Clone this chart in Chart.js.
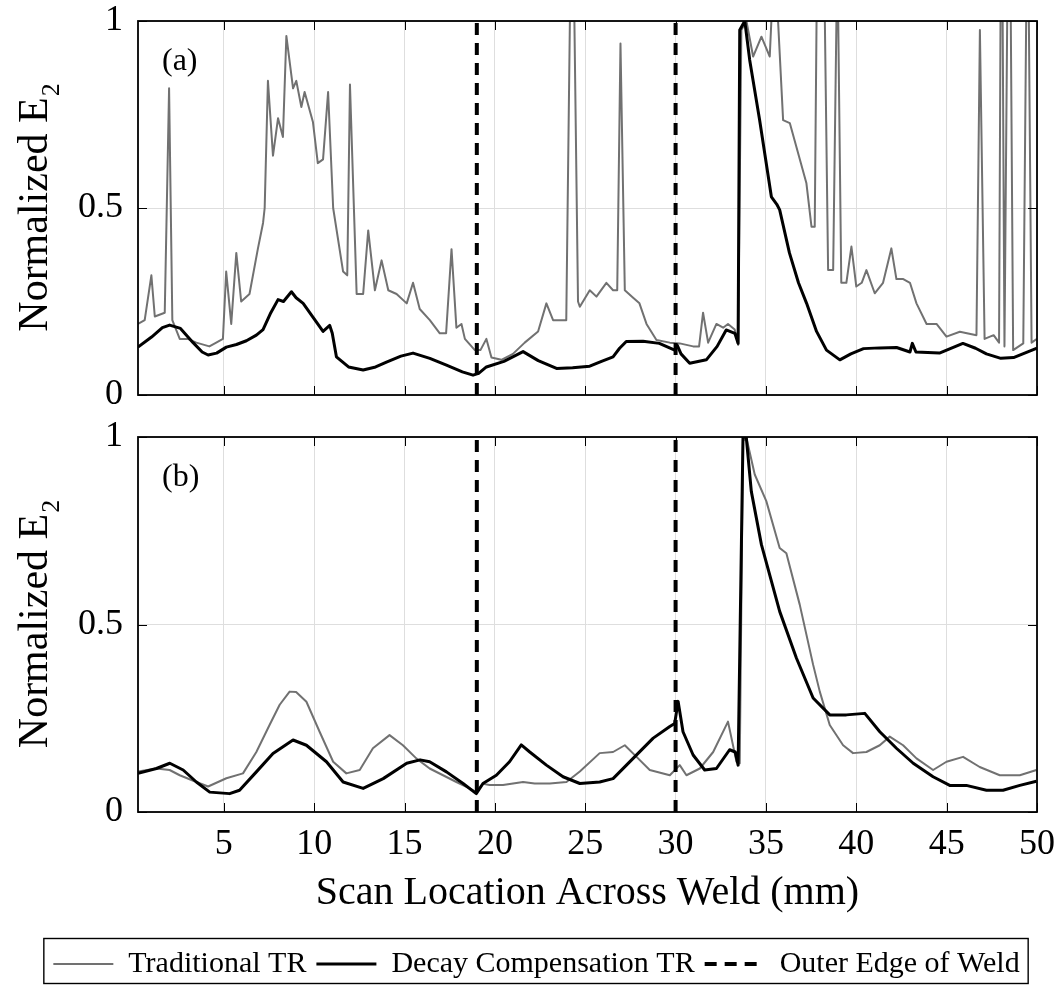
<!DOCTYPE html>
<html>
<head>
<meta charset="utf-8">
<script src="https://cdn.jsdelivr.net/npm/chart.js@4.4.1/dist/chart.umd.min.js"></script>
<style>
  html, body { margin: 0; padding: 0; background: #fff; }
  #wrap { position: relative; width: 1060px; height: 985px; }
  canvas { position: absolute; left: 0; }
  #top { top: 0; }
  #bottom { top: 420px; }
</style>
</head>
<body>
<div id="wrap">
  <canvas id="top" width="1060" height="420"></canvas>
  <canvas id="bottom" width="1060" height="565"></canvas>
</div>
<script>
const xTicks = [5, 10, 15, 20, 25, 30, 35, 40, 45, 50];
const yTicks = [0, 0.5, 1];
const weldEdges = [19, 30];

// (a) traditional TR, [scan location mm, normalized E2]
const tradA = [
  [0.25,0.19],[0.62,0.20],[0.99,0.32],[1.18,0.21],[1.73,0.22],[1.97,0.82],[2.15,0.20],[2.56,0.15],
  [3.0,0.15],[3.48,0.14],[4.2,0.13],[4.58,0.14],[4.95,0.15],[5.13,0.33],[5.41,0.19],[5.69,0.38],
  [5.96,0.25],[6.42,0.27],[6.88,0.39],[7.17,0.46],[7.26,0.50],[7.44,0.84],[7.72,0.64],[8.0,0.74],
  [8.27,0.69],[8.46,0.96],[8.83,0.82],[9.01,0.84],[9.29,0.77],[9.47,0.81],[9.93,0.73],[10.2,0.62],
  [10.49,0.63],[10.77,0.81],[11.05,0.50],[11.6,0.33],[11.83,0.32],[11.98,0.83],[12.35,0.27],[12.71,0.27],
  [12.99,0.44],[13.36,0.28],[13.73,0.36],[14.1,0.28],[14.56,0.27],[15.12,0.245],[15.47,0.30],[15.84,0.23],
  [16.4,0.20],[16.95,0.165],[17.3,0.165],[17.6,0.39],[17.87,0.18],[18.15,0.19],[18.34,0.15],[18.89,0.12],
  [19.2,0.12],[19.53,0.15],[19.81,0.10],[20.36,0.094],[21.0,0.11],[21.65,0.14],[22.39,0.17],[22.85,0.245],
  [23.22,0.20],[23.95,0.20],[24.15,1.0],[24.4,1.0],[24.6,0.25],[24.7,0.236],[25.25,0.28],[25.62,0.263],
  [26.17,0.30],[26.54,0.28],[26.77,0.28],[26.95,0.94],[27.19,0.28],[27.65,0.26],[28.0,0.245],[28.39,0.19],
  [28.94,0.147],[29.68,0.14],[30.23,0.138],[30.97,0.13],[31.3,0.13],[31.52,0.22],[31.8,0.14],[32.26,0.19],
  [32.63,0.18],[32.9,0.19],[33.27,0.175],[33.46,0.134],[33.64,0.976],[33.92,1.0],[34.29,0.905],[34.75,0.958],
  [35.21,0.905],[35.3,1.0],[35.67,1.0],[35.95,0.735],[36.32,0.727],[37.24,0.566],[37.52,0.45],[37.7,0.45],
  [37.8,1.0],[38.26,1.0],[38.44,0.334],[38.72,0.334],[38.9,1.0],[39.0,1.0],[39.17,0.30],[39.45,0.30],
  [39.73,0.397],[40.0,0.29],[40.3,0.30],[40.56,0.334],[41.02,0.272],[41.48,0.30],[41.94,0.392],[42.22,0.31],
  [42.6,0.31],[42.97,0.30],[43.33,0.245],[43.89,0.19],[44.44,0.19],[44.99,0.156],[45.73,0.169],[46.65,0.16],
  [46.84,0.976],[47.1,0.15],[47.6,0.16],[47.9,0.14],[47.98,1.0],[48.1,1.0],[48.2,0.13],[48.35,1.0],
  [48.55,1.0],[48.68,0.12],[49.24,0.138],[49.4,1.0],[49.55,1.0],[49.7,0.14],[50,0.15]
];

// (a) decay compensation TR
const decayA = [
  [0.25,0.128],[1.0,0.155],[1.6,0.18],[2.0,0.187],[2.6,0.178],[3.3,0.14],[3.8,0.115],[4.13,0.107],
  [4.6,0.112],[5.14,0.128],[5.7,0.135],[6.25,0.145],[6.8,0.16],[7.17,0.175],[7.6,0.22],[8.0,0.255],
  [8.3,0.25],[8.74,0.276],[9.0,0.26],[9.39,0.245],[9.9,0.21],[10.49,0.17],[10.86,0.186],[11.0,0.165],
  [11.23,0.102],[11.9,0.075],[12.71,0.067],[13.4,0.075],[14.0,0.088],[14.8,0.104],[15.47,0.112],[16.4,0.098],
  [17.32,0.08],[18.2,0.062],[18.79,0.053],[19.1,0.058],[19.53,0.075],[20.5,0.09],[21.56,0.116],[22.4,0.092],
  [23.41,0.071],[24.3,0.073],[25.25,0.077],[25.9,0.09],[26.54,0.102],[26.9,0.125],[27.27,0.143],[28.2,0.144],
  [29.1,0.138],[29.95,0.12],[30.1,0.132],[30.3,0.11],[30.78,0.085],[31.7,0.094],[32.3,0.13],[32.8,0.174],
  [33.28,0.165],[33.46,0.138],[33.55,0.976],[33.83,1.0],[34.1,0.896],[34.65,0.735],[35.3,0.53],[35.6,0.51],
  [35.76,0.495],[36.3,0.38],[36.8,0.3],[37.25,0.245],[37.8,0.17],[38.35,0.12],[39.09,0.094],[39.7,0.11],
  [40.4,0.124],[41.3,0.126],[42.23,0.127],[42.97,0.115],[43.1,0.138],[43.3,0.115],[44.6,0.112],[45.9,0.138],
  [46.6,0.125],[47.2,0.11],[48.0,0.098],[48.7,0.1],[50,0.125]
];

// (b) traditional TR
const tradB = [
  [0.25,0.108],[1.27,0.116],[2.0,0.112],[2.56,0.098],[3.48,0.08],[4.13,0.068],[5.14,0.09],[6.06,0.103],
  [6.8,0.16],[7.53,0.232],[8.09,0.286],[8.64,0.321],[9.0,0.32],[9.57,0.294],[10.3,0.214],[11.05,0.134],
  [11.78,0.103],[12.52,0.112],[13.25,0.17],[14.17,0.205],[14.91,0.178],[15.65,0.143],[16.39,0.116],[17.13,0.098],
  [17.87,0.08],[18.6,0.063],[18.97,0.053],[19.34,0.075],[19.71,0.072],[20.45,0.072],[21.56,0.08],[22.2,0.076],
  [23.04,0.076],[23.96,0.08],[24.7,0.108],[25.8,0.157],[26.54,0.16],[27.19,0.178],[27.84,0.147],[28.57,0.112],
  [29.68,0.098],[30.23,0.125],[30.6,0.098],[31.34,0.116],[32.08,0.16],[32.9,0.241],[33.37,0.134],[33.55,0.13],
  [33.73,0.989],[33.91,1.0],[34.38,0.9],[35.02,0.829],[35.76,0.704],[36.13,0.69],[36.87,0.553],[37.61,0.393],
  [37.98,0.321],[38.53,0.232],[39.27,0.178],[39.82,0.157],[40.56,0.16],[41.3,0.178],[41.85,0.201],[42.59,0.178],
  [43.33,0.143],[44.25,0.112],[44.99,0.134],[45.91,0.147],[46.83,0.12],[47.94,0.098],[49.05,0.098],[49.97,0.112]
];

// (b) decay compensation TR
const decayB = [
  [0.25,0.103],[1.27,0.116],[2.01,0.13],[2.75,0.112],[3.48,0.08],[4.22,0.053],[5.32,0.049],[5.87,0.058],
  [6.8,0.107],[7.72,0.156],[8.83,0.192],[9.57,0.178],[10.68,0.134],[11.6,0.08],[12.71,0.063],[13.82,0.089],
  [15.12,0.13],[15.86,0.139],[16.39,0.134],[17.32,0.107],[18.24,0.076],[18.97,0.049],[19.34,0.076],[20.08,0.098],
  [20.81,0.134],[21.46,0.179],[21.93,0.16],[22.85,0.125],[23.77,0.094],[24.7,0.076],[25.8,0.08],[26.54,0.089],
  [27.65,0.143],[28.76,0.197],[29.68,0.228],[29.95,0.236],[30.14,0.295],[30.41,0.214],[30.97,0.152],[31.61,0.112],
  [32.26,0.116],[32.99,0.166],[33.3,0.16],[33.46,0.125],[33.73,1.0],[33.91,1.0],[34.19,0.855],[34.75,0.713],
  [35.76,0.535],[36.69,0.41],[37.61,0.304],[38.53,0.259],[39.45,0.259],[40.47,0.263],[41.3,0.214],[42.22,0.17],
  [43.15,0.13],[44.25,0.094],[45.17,0.071],[46.09,0.071],[47.2,0.058],[48.12,0.058],[49.05,0.071],[49.97,0.082]
];

const serif = "'Liberation Serif', 'Times New Roman', serif";
Chart.defaults.font.family = serif;
Chart.defaults.color = '#000';

// two vertical segments, broken by a null point
const edgeLine = weldEdges.flatMap((x, i) =>
  (i ? [[(weldEdges[i - 1] + x) / 2, null]] : []).concat([[x, 0], [x, 1]]));

function makeDatasets(trad, decay) {
  return [
    { label: 'Traditional TR', data: trad, borderColor: '#717171', borderWidth: 2, order: 3 },
    { label: 'Decay Compensation TR', data: decay, borderColor: '#000', borderWidth: 3, order: 2 },
    { label: 'Outer Edge of Weld', data: edgeLine, borderColor: '#000', borderWidth: 4, borderDash: [12, 8], order: 1 }
  ].map(d => Object.assign({ pointRadius: 0, tension: 0, fill: false, borderJoinStyle: 'round' }, d));
}

// frame, inner tick marks, panel tag, y title with subscript, legend box
const panelDecor = {
  id: 'panelDecor',
  afterDraw(chart, args, opts) {
    const { ctx, chartArea: a, scales: { x, y } } = chart;
    ctx.save();
    ctx.strokeStyle = '#000';
    ctx.lineWidth = 1;
    ctx.beginPath();
    xTicks.forEach(v => {
      const px = Math.round(x.getPixelForValue(v)) + 0.5;
      ctx.moveTo(px, a.bottom); ctx.lineTo(px, a.bottom - 9);
      ctx.moveTo(px, a.top); ctx.lineTo(px, a.top + 9);
    });
    yTicks.forEach(v => {
      const py = Math.round(y.getPixelForValue(v)) + 0.5;
      ctx.moveTo(a.left, py); ctx.lineTo(a.left + 9, py);
      ctx.moveTo(a.right, py); ctx.lineTo(a.right - 9, py);
    });
    ctx.stroke();
    ctx.lineWidth = 1.8;
    ctx.strokeRect(a.left, a.top, a.right - a.left, a.bottom - a.top);

    ctx.fillStyle = '#000';
    ctx.textAlign = 'left';
    ctx.textBaseline = 'alphabetic';
    ctx.font = `32px ${serif}`;
    ctx.fillText(opts.tag, a.left + 24, a.top + 49);

    const lg = chart.legend;
    if (lg && lg.options.display && lg.legendHitBoxes.length) {
      const hb = lg.legendHitBoxes;
      const l = Math.min(...hb.map(h => h.left)) - 10;
      const r = Math.max(...hb.map(h => h.left + h.width)) + 8;
      ctx.lineWidth = 1.4;
      ctx.strokeRect(l + 0.5, lg.top - 0.5, r - l, lg.height - 1);
    }

    const main = 'Normalized E', sub = '2';
    ctx.font = `42px ${serif}`;
    const w1 = ctx.measureText(main).width;
    ctx.font = `26px ${serif}`;
    const w2 = ctx.measureText(sub).width;
    ctx.translate(a.left - 91, (a.top + a.bottom) / 2);
    ctx.rotate(-Math.PI / 2);
    ctx.font = `42px ${serif}`;
    ctx.fillText(main, -(w1 + w2) / 2, 0);
    ctx.font = `26px ${serif}`;
    ctx.fillText(sub, -(w1 + w2) / 2 + w1 + 1, 12);
    ctx.restore();
  }
};

function makeOptions(isBottom) {
  return {
    responsive: false,
    animation: false,
    devicePixelRatio: 1,
    events: [],
    layout: { padding: { top: isBottom ? 17 : 21, right: 23, bottom: 0, left: 36 } },
    scales: {
      x: {
        type: 'linear', min: 0.25, max: 50,
        afterBuildTicks: s => { s.ticks = xTicks.map(v => ({ value: v })); },
        afterFit: s => { s.height = isBottom ? 127 : 25; s.paddingLeft = 0; s.paddingRight = 0; },
        grid: { color: '#dedede', drawTicks: false },
        border: { display: false },
        ticks: { display: isBottom, padding: 11, font: { size: 36 }, maxRotation: 0, callback: v => String(v) },
        title: {
          display: isBottom, text: 'Scan Location Across Weld (mm)',
          font: { size: 40 }, padding: { top: 0, bottom: 22 }
        }
      },
      y: {
        type: 'linear', min: 0, max: 1,
        afterBuildTicks: s => { s.ticks = yTicks.map(v => ({ value: v })); },
        afterFit: s => { s.width = 102; s.paddingTop = 0; s.paddingBottom = 0; },
        grid: { color: '#dedede', drawTicks: false },
        border: { display: false },
        ticks: { padding: 15, font: { size: 36 }, callback: v => String(v) }
      }
    },
    plugins: {
      legend: {
        display: isBottom,
        position: 'bottom',
        maxHeight: 46,
        labels: {
          font: { size: 30 }, color: '#000', padding: 10,
          usePointStyle: true, pointStyle: 'line', pointStyleWidth: 60,
          generateLabels: chart => chart.data.datasets.map((d, i) => ({
            text: d.label, datasetIndex: i, hidden: false, pointStyle: 'line',
            strokeStyle: d.borderColor, fillStyle: d.borderColor,
            lineWidth: d.borderWidth, lineDash: d.borderDash || []
          }))
        }
      },
      tooltip: { enabled: false },
      panelDecor: { tag: isBottom ? '(b)' : '(a)' }
    }
  };
}

new Chart(document.getElementById('top'), {
  type: 'line',
  data: { datasets: makeDatasets(tradA, decayA) },
  options: makeOptions(false),
  plugins: [panelDecor]
});

new Chart(document.getElementById('bottom'), {
  type: 'line',
  data: { datasets: makeDatasets(tradB, decayB) },
  options: makeOptions(true),
  plugins: [panelDecor]
});
</script>
</body>
</html>
